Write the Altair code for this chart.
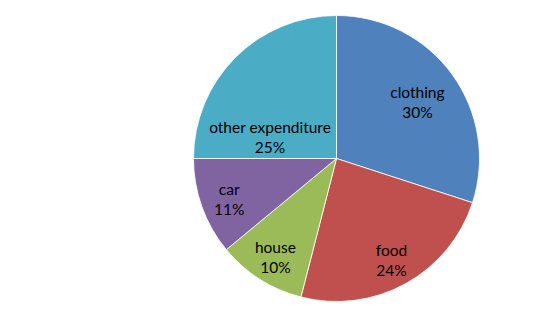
import altair as alt
import pandas as pd

categories = ["clothing", "food", "house", "car", "other expenditure"]
shares = [30, 24, 10, 11, 25]
colors = ["#4F81BD", "#C0504D", "#9BBB59", "#8064A2", "#4BACC6"]

df = pd.DataFrame({"category": categories, "share": shares, "idx": list(range(len(categories)))})

base = alt.Chart(df).encode(
    theta=alt.Theta("share:Q", stack=True),
    order=alt.Order("idx:Q"),
    x=alt.value(336.5),
    y=alt.value(158.5),
)

pie = base.mark_arc(outerRadius=143, stroke="white", strokeWidth=0.8).encode(
    color=alt.Color("category:N", scale=alt.Scale(domain=categories, range=colors), legend=None)
)

font = "Lato"
fs = 15.5


def text_layer(test, **mark_kw):
    return base.transform_calculate(
        lab="(" + test + ") ? [datum.category, datum.share + '%'] : ['']"
    ).mark_text(font=font, fontSize=fs, lineHeight=20, color="black", baseline="middle", **mark_kw).encode(
        text="lab:N"
    )


lab_clothing = text_layer("datum.category == 'clothing'", radius=100, dy=-7)
lab_lower = text_layer("datum.category == 'food' || datum.category == 'house' || datum.category == 'car'", radius=114, dy=-7)
lab_other = text_layer("datum.category == 'other expenditure'", radius=70, dx=-17, dy=19)

chart = alt.layer(pie, lab_clothing, lab_lower, lab_other).properties(
    width=541, height=328, autosize=alt.AutoSizeParams(type="none"), padding=0, background="white"
).configure_view(stroke=None, strokeWidth=0)

chart.save("out.html", embed_options={"renderer": "svg", "actions": False})
